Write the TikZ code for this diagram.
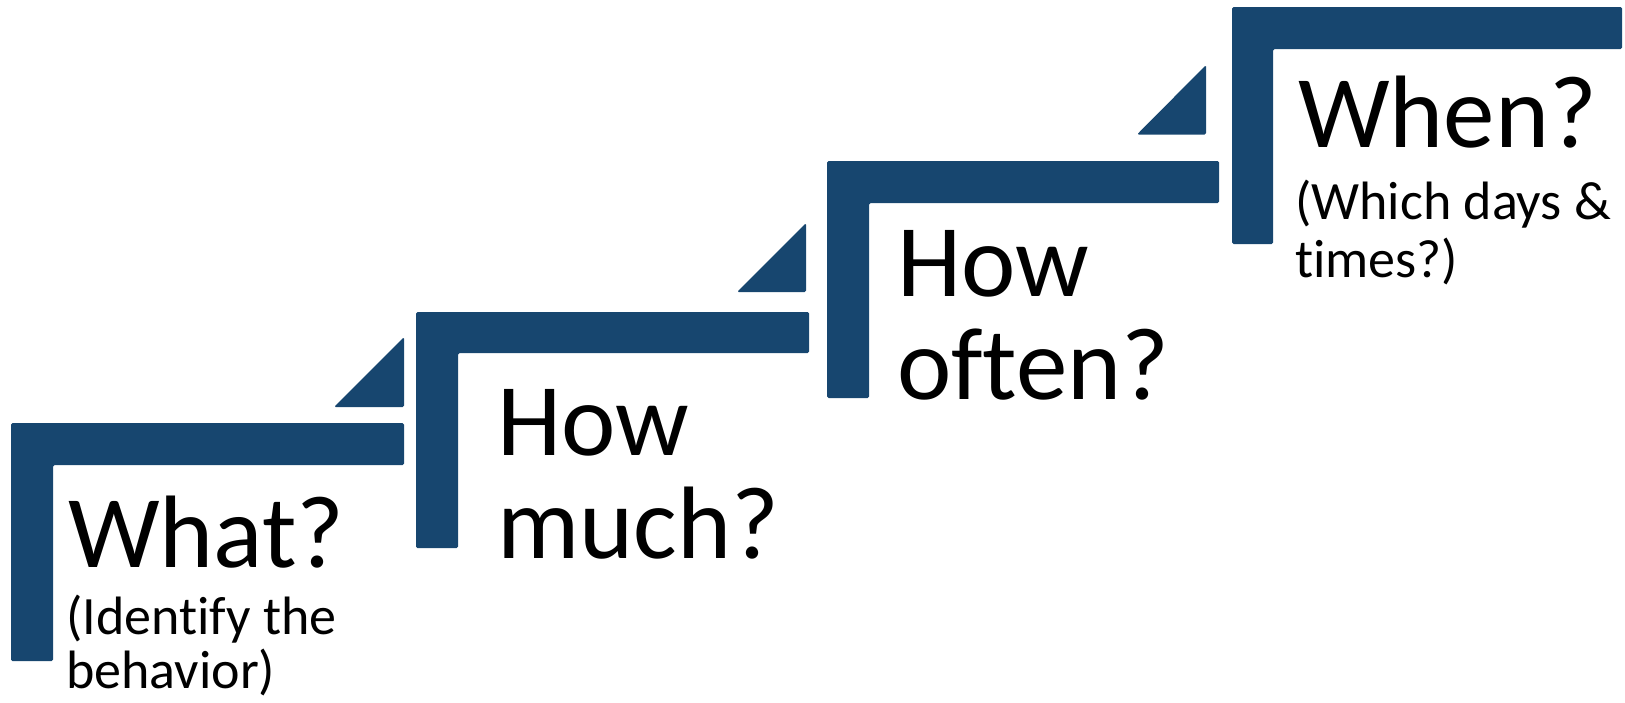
\documentclass[tikz,border=0pt]{standalone}
\usepackage{fontspec}
\setmainfont{Carlito}[Ligatures=NoCommon]
\definecolor{stairblue}{RGB}{23,70,111}
\begin{document}
\begin{tikzpicture}[x=1pt,y=-1pt,
  stairshape/.style={fill=stairblue,draw=none,rounded corners=1.5pt},
  bigtxt/.style={anchor=base west,inner sep=0pt,font=\fontsize{103}{103}\selectfont},
  smalltxt/.style={anchor=base west,inner sep=0pt,font=\fontsize{54}{58}\selectfont}]
\useasboundingbox (0,0) rectangle (1625,702);
% steps
\path[stairshape] (11,423) -- (404,423) -- (404,465) -- (53,465) -- (53,661) -- (11,661) -- cycle;
\path[stairshape] (416,312) -- (809,312) -- (809,353) -- (458,353) -- (458,548) -- (416,548) -- cycle;
\path[stairshape] (827,161) -- (1219,161) -- (1219,203) -- (869,203) -- (869,398) -- (827,398) -- cycle;
\path[stairshape] (1232,7) -- (1622,7) -- (1622,49) -- (1273,49) -- (1273,244) -- (1232,244) -- cycle;
% triangles
\path[stairshape] (334,407) -- (404,337) -- (404,407) -- cycle;
\path[stairshape] (737,292) -- (806,223) -- (806,292) -- cycle;
\path[stairshape] (1137,134.5) -- (1206,65) -- (1206,134.5) -- cycle;
% texts
\node[bigtxt] (what) at (68,567) {What?};
\node[smalltxt] (what1) at (66,634) {(Identify the};
\node[smalltxt] (what2) at (66,688) {behavior)};
\node[bigtxt] (much1) at (497,455) {How};
\node[bigtxt] (much2) at (497,558) {much?};
\node[bigtxt] (often1) at (897,296) {How};
\node[bigtxt] (often2) at (897,399) {often?};
\node[bigtxt] (when) at (1298,147) {When?};
\node[smalltxt] (when1) at (1295,219) {(Which days \&};
\node[smalltxt] (when2) at (1295,277) {times?)};
\end{tikzpicture}
\end{document}
